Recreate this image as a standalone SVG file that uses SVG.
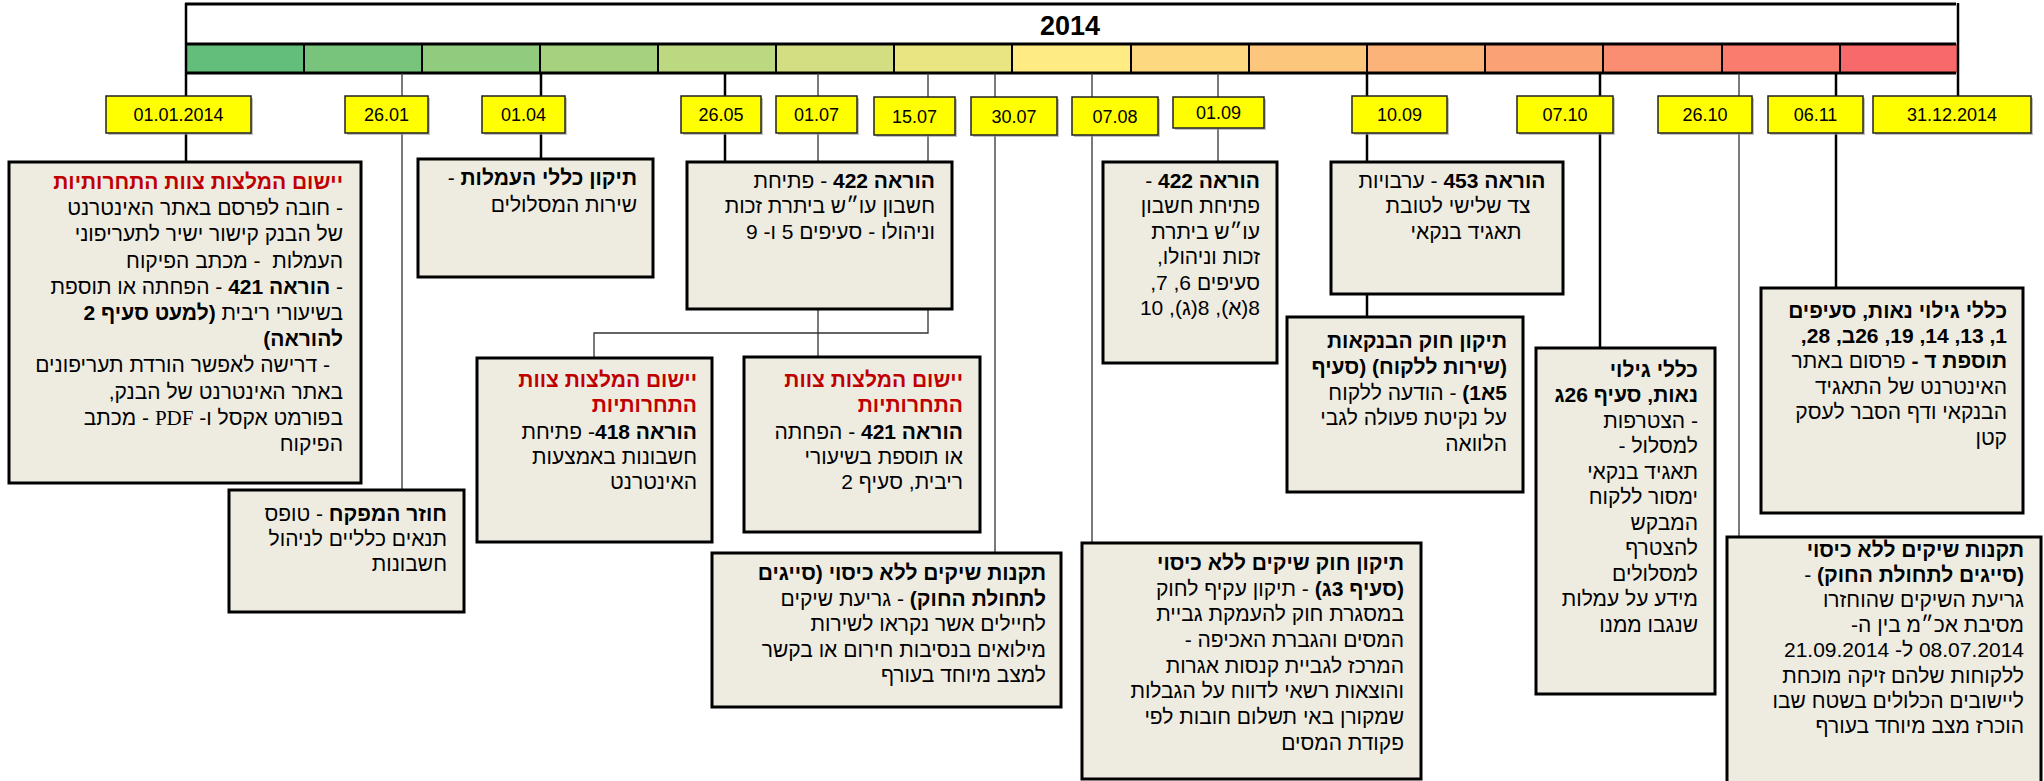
<svg xmlns="http://www.w3.org/2000/svg" width="2044" height="781" viewBox="0 0 2044 781">
<defs>
<style>
.box{fill:#EEECE1;stroke:#000;stroke-width:3}
.dbox{fill:#FFFF00;stroke:#222;stroke-width:1.5}
.sh{fill:#999;opacity:.6}
.d{font-family:"Liberation Sans","DejaVu Sans",sans-serif;font-size:18px;fill:#000;text-anchor:middle}
.t{font-family:"Liberation Sans","DejaVu Sans",sans-serif;font-size:21px;fill:#000;direction:rtl;text-anchor:start}
.c{text-anchor:middle}
.b{font-weight:bold}
.r{font-weight:bold;fill:#C00000}
.pdf{font-family:"Liberation Serif",serif}
.k{stroke:#000;stroke-width:2.5;fill:none}
.g{stroke:#333;stroke-width:1.3;fill:none}
.seg{stroke:#000;stroke-width:2}
</style>
</defs>
<rect width="2044" height="781" fill="#fff"/>

<g id="timeline">
<rect x="186" y="44" width="118" height="29" fill="#63BE7B"/>
<rect x="304" y="44" width="118" height="29" fill="#79C47C"/>
<rect x="422" y="44" width="118" height="29" fill="#90CB7E"/>
<rect x="540" y="44" width="118" height="29" fill="#A6D17F"/>
<rect x="658" y="44" width="118" height="29" fill="#BCD880"/>
<rect x="776" y="44" width="118" height="29" fill="#D2DE81"/>
<rect x="894" y="44" width="118" height="29" fill="#E9E583"/>
<rect x="1012" y="44" width="119" height="29" fill="#FFEB84"/>
<rect x="1131" y="44" width="118" height="29" fill="#FED880"/>
<rect x="1249" y="44" width="118" height="29" fill="#FDC67D"/>
<rect x="1367" y="44" width="118" height="29" fill="#FCB379"/>
<rect x="1485" y="44" width="118" height="29" fill="#FBA176"/>
<rect x="1603" y="44" width="119" height="29" fill="#FA8E72"/>
<rect x="1722" y="44" width="118" height="29" fill="#F97C6F"/>
<rect x="1840" y="44" width="117" height="29" fill="#F8696B"/>
<g class="seg">
<line x1="304" y1="44" x2="304" y2="73"/><line x1="422" y1="44" x2="422" y2="73"/>
<line x1="540" y1="44" x2="540" y2="73"/><line x1="658" y1="44" x2="658" y2="73"/>
<line x1="776" y1="44" x2="776" y2="73"/><line x1="894" y1="44" x2="894" y2="73"/>
<line x1="1012" y1="44" x2="1012" y2="73"/><line x1="1131" y1="44" x2="1131" y2="73"/>
<line x1="1249" y1="44" x2="1249" y2="73"/><line x1="1367" y1="44" x2="1367" y2="73"/>
<line x1="1485" y1="44" x2="1485" y2="73"/><line x1="1603" y1="44" x2="1603" y2="73"/>
<line x1="1722" y1="44" x2="1722" y2="73"/><line x1="1840" y1="44" x2="1840" y2="73"/>
</g>
<line x1="185" y1="4" x2="1956" y2="4" stroke="#000" stroke-width="3"/>
<line x1="185" y1="44" x2="1956" y2="44" stroke="#000" stroke-width="3"/>
<line x1="185" y1="73" x2="1956" y2="73" stroke="#000" stroke-width="3"/>
<text x="1070" y="35" font-family="Liberation Sans, DejaVu Sans, sans-serif" font-size="27" font-weight="bold" text-anchor="middle">2014</text>
</g>

<g id="connectors">
<path class="k" d="M186 3V96M186 133V162"/>
<path class="g" d="M402 73V96M402 133V490"/>
<path class="k" d="M541 73V96M541 133V159"/>
<path class="k" d="M725 73V96M725 133V162"/>
<path class="g" d="M818 73V96M818 133V357"/>
<path class="g" d="M928 73V97M928 135V333H594V358"/>
<path class="g" d="M995 73V97M995 135V553"/>
<path class="g" d="M1092 73V97M1092 135V543"/>
<path class="g" d="M1218 73V97M1218 128V162"/>
<path class="k" d="M1367 73V96M1367 133V162M1367 294V317"/>
<path class="k" d="M1600 73V96M1600 133V348"/>
<path class="g" d="M1739 73V96M1739 133V537"/>
<path class="k" d="M1836 73V96M1836 133V288"/>
<path class="k" d="M1958 3V96"/>
</g>

<g id="dates">
<g id="d0101"><rect class="sh" x="108" y="98" width="145" height="37"/><rect class="dbox" x="106" y="96" width="145" height="37"/><text class="d" x="178.5" y="121">01.01.2014</text></g>
<g id="d2601"><rect class="sh" x="347" y="98" width="83" height="37"/><rect class="dbox" x="345" y="96" width="83" height="37"/><text class="d" x="386.5" y="121">26.01</text></g>
<g id="d0104"><rect class="sh" x="484" y="98" width="83" height="37"/><rect class="dbox" x="482" y="96" width="83" height="37"/><text class="d" x="523.5" y="121">01.04</text></g>
<g id="d2605"><rect class="sh" x="683" y="98" width="80" height="37"/><rect class="dbox" x="681" y="96" width="80" height="37"/><text class="d" x="721" y="121">26.05</text></g>
<g id="d0107"><rect class="sh" x="778" y="98" width="81" height="37"/><rect class="dbox" x="776" y="96" width="81" height="37"/><text class="d" x="816.5" y="121">01.07</text></g>
<g id="d1507"><rect class="sh" x="876" y="99" width="81" height="38"/><rect class="dbox" x="874" y="97" width="81" height="38"/><text class="d" x="914.5" y="123">15.07</text></g>
<g id="d3007"><rect class="sh" x="973" y="99" width="86" height="38"/><rect class="dbox" x="971" y="97" width="86" height="38"/><text class="d" x="1014" y="123">30.07</text></g>
<g id="d0708"><rect class="sh" x="1074" y="99" width="86" height="38"/><rect class="dbox" x="1072" y="97" width="86" height="38"/><text class="d" x="1115" y="123">07.08</text></g>
<g id="d0109"><rect class="sh" x="1175" y="99" width="91" height="31"/><rect class="dbox" x="1173" y="97" width="91" height="31"/><text class="d" x="1218.5" y="119">01.09</text></g>
<g id="d1009"><rect class="sh" x="1354" y="98" width="95" height="37"/><rect class="dbox" x="1352" y="96" width="95" height="37"/><text class="d" x="1399.5" y="121">10.09</text></g>
<g id="d0710"><rect class="sh" x="1519" y="98" width="96" height="37"/><rect class="dbox" x="1517" y="96" width="96" height="37"/><text class="d" x="1565" y="121">07.10</text></g>
<g id="d2610"><rect class="sh" x="1660" y="98" width="94" height="37"/><rect class="dbox" x="1658" y="96" width="94" height="37"/><text class="d" x="1705" y="121">26.10</text></g>
<g id="d0611"><rect class="sh" x="1770" y="98" width="95" height="37"/><rect class="dbox" x="1768" y="96" width="95" height="37"/><text class="d" x="1815.5" y="121">06.11</text></g>
<g id="d3112"><rect class="sh" x="1875" y="98" width="158" height="37"/><rect class="dbox" x="1873" y="96" width="158" height="37"/><text class="d" x="1952" y="121">31.12.2014</text></g>
</g>

<g id="n1">
<rect class="box" x="9" y="162" width="352" height="321"/>
<text class="t r" x="343" y="189">יישום המלצות צוות התחרותיות</text>
<text class="t" x="343" y="215">- חובה לפרסם באתר האינטרנט</text>
<text class="t" x="343" y="241">של הבנק קישור ישיר לתעריפוני</text>
<text class="t" x="343" y="268">העמלות &#160;- מכתב הפיקוח</text>
<text class="t" x="343" y="294">- <tspan class="b">הוראה 421</tspan> - הפחתה או תוספת</text>
<text class="t" x="343" y="320">בשיעורי ריבית <tspan class="b">(למעט סעיף 2</tspan></text>
<text class="t b" x="343" y="346">להוראה)</text>
<text class="t" x="330" y="372">- דרישה לאפשר הורדת תעריפונים</text>
<text class="t" x="343" y="399">באתר האינטרנט של הבנק,</text>
<text class="t" x="343" y="425">בפורמט אקסל ו- <tspan class="pdf">PDF</tspan> - מכתב</text>
<text class="t" x="343" y="451">הפיקוח</text>
</g>

<g id="n2">
<rect class="box" x="229" y="490" width="235" height="122"/>
<text class="t" x="447" y="521"><tspan class="b">חוזר המפקח</tspan> - טופס</text>
<text class="t" x="447" y="546">תנאים כלליים לניהול</text>
<text class="t" x="447" y="571">חשבונות</text>
</g>

<g id="n3">
<rect class="box" x="418" y="159" width="235" height="118"/>
<text class="t" x="637" y="185"><tspan class="b">תיקון כללי העמלות</tspan> -</text>
<text class="t" x="637" y="212">שירות המסלולים</text>
</g>

<g id="n4">
<rect class="box" x="687" y="162" width="265" height="147"/>
<text class="t" x="935" y="188"><tspan class="b">הוראה 422</tspan> - פתיחת</text>
<text class="t" x="935" y="213">חשבון עו״ש ביתרת זכות</text>
<text class="t" x="935" y="239">וניהולו - סעיפים 5 ו- 9</text>
</g>

<g id="n5">
<rect class="box" x="477" y="358" width="235" height="184"/>
<text class="t r" x="697" y="387">יישום המלצות צוות</text>
<text class="t r" x="697" y="412">התחרותיות</text>
<text class="t" x="697" y="439"><tspan class="b">הוראה 418</tspan>- פתיחת</text>
<text class="t" x="697" y="464">חשבונות באמצעות</text>
<text class="t" x="697" y="489">האינטרנט</text>
</g>

<g id="n6">
<rect class="box" x="744" y="357" width="236" height="175"/>
<text class="t r" x="963" y="387">יישום המלצות צוות</text>
<text class="t r" x="963" y="412">התחרותיות</text>
<text class="t" x="963" y="439"><tspan class="b">הוראה 421</tspan> - הפחתה</text>
<text class="t" x="963" y="464">או תוספת בשיעורי</text>
<text class="t" x="963" y="489">ריבית, סעיף 2</text>
</g>

<g id="n7">
<rect class="box" x="712" y="553" width="349" height="154"/>
<text class="t b" x="1046" y="580">תקנות שיקים ללא כיסוי (סייגים</text>
<text class="t" x="1046" y="606"><tspan class="b">לתחולת החוק)</tspan> - גריעת שיקים</text>
<text class="t" x="1046" y="631">לחיילים אשר נקראו לשירות</text>
<text class="t" x="1046" y="657">מילואים בנסיבות חירום או בקשר</text>
<text class="t" x="1046" y="682">למצב מיוחד בעורף</text>
</g>

<g id="n8">
<rect class="box" x="1082" y="543" width="339" height="236"/>
<text class="t b" x="1404" y="570">תיקון חוק שיקים ללא כיסוי</text>
<text class="t" x="1404" y="596"><tspan class="b">(סעיף 3ג)</tspan> - תיקון עקיף לחוק</text>
<text class="t" x="1404" y="621">במסגרת חוק להעמקת גביית</text>
<text class="t" x="1404" y="647">המסים והגברת האכיפה -</text>
<text class="t" x="1404" y="673">המרכז לגביית קנסות אגרות</text>
<text class="t" x="1404" y="698">והוצאות רשאי לדווח על הגבלות</text>
<text class="t" x="1404" y="724">שמקורן באי תשלום חובות לפי</text>
<text class="t" x="1404" y="750">פקודת המסים</text>
</g>

<g id="n9">
<rect class="box" x="1103" y="162" width="174" height="201"/>
<text class="t" x="1260" y="188"><tspan class="b">הוראה 422</tspan> -</text>
<text class="t" x="1260" y="213">פתיחת חשבון</text>
<text class="t" x="1260" y="239">עו״ש ביתרת</text>
<text class="t" x="1260" y="264">זכות וניהולו,</text>
<text class="t" x="1260" y="290">סעיפים 6, 7,</text>
<text class="t" x="1260" y="315">8(א), 8(ג), 10</text>
</g>

<g id="n10">
<rect class="box" x="1331" y="162" width="232" height="132"/>
<text class="t c" x="1452" y="188"><tspan class="b">הוראה 453</tspan> - ערבויות</text>
<text class="t c" x="1458" y="213">צד שלישי לטובת</text>
<text class="t c" x="1466" y="239">תאגיד בנקאי</text>
</g>

<g id="n11">
<rect class="box" x="1287" y="317" width="236" height="175"/>
<text class="t b" x="1507" y="348">תיקון חוק הבנקאות</text>
<text class="t b" x="1507" y="374">(שירות ללקוח) (סעיף</text>
<text class="t" x="1507" y="400"><tspan class="b">5א1)</tspan> - הודעה ללקוח</text>
<text class="t" x="1507" y="425">על נקיטת פעולה לגבי</text>
<text class="t" x="1507" y="451">הלוואה</text>
</g>

<g id="n12">
<rect class="box" x="1536" y="348" width="179" height="346"/>
<text class="t b" x="1698" y="377">כללי גילוי</text>
<text class="t b" x="1698" y="402">נאות, סעיף 26ג</text>
<text class="t" x="1698" y="428">- הצטרפות</text>
<text class="t" x="1698" y="453">למסלול -</text>
<text class="t" x="1698" y="479">תאגיד בנקאי</text>
<text class="t" x="1698" y="504">ימסור ללקוח</text>
<text class="t" x="1698" y="530">המבקש</text>
<text class="t" x="1698" y="555">להצטרף</text>
<text class="t" x="1698" y="581">למסלולים</text>
<text class="t" x="1698" y="606">מידע על עמלות</text>
<text class="t" x="1698" y="632">שנגבו ממנו</text>
</g>

<g id="n13">
<rect class="box" x="1761" y="288" width="262" height="225"/>
<text class="t b" x="2007" y="318">כללי גילוי נאות, סעיפים</text>
<text class="t b" x="2007" y="343">1, 13, 14, 19, 26ב, 28,</text>
<text class="t" x="2007" y="368"><tspan class="b">תוספת ד -</tspan> פרסום באתר</text>
<text class="t" x="2007" y="394">האינטרנט של התאגיד</text>
<text class="t" x="2007" y="419">הבנקאי ודף הסבר לעסק</text>
<text class="t" x="2007" y="445">קטן</text>
</g>

<g id="n14">
<rect class="box" x="1727" y="537" width="314" height="246"/>
<text class="t b" x="2024" y="557">תקנות שיקים ללא כיסוי</text>
<text class="t" x="2024" y="582"><tspan class="b">(סייגים לתחולת החוק)</tspan> -</text>
<text class="t" x="2024" y="607">גריעת השיקים שהוחזרו</text>
<text class="t" x="2024" y="632">מסיבת אכ״מ בין ה-</text>
<text class="t" x="2024" y="657">08.07.2014 ל- 21.09.2014</text>
<text class="t" x="2024" y="683">ללקוחות שלהם זיקה מוכחת</text>
<text class="t" x="2024" y="708">ליישובים הכלולים בשטח שבו</text>
<text class="t" x="2024" y="733">הוכרז מצב מיוחד בעורף</text>
</g>
</svg>
